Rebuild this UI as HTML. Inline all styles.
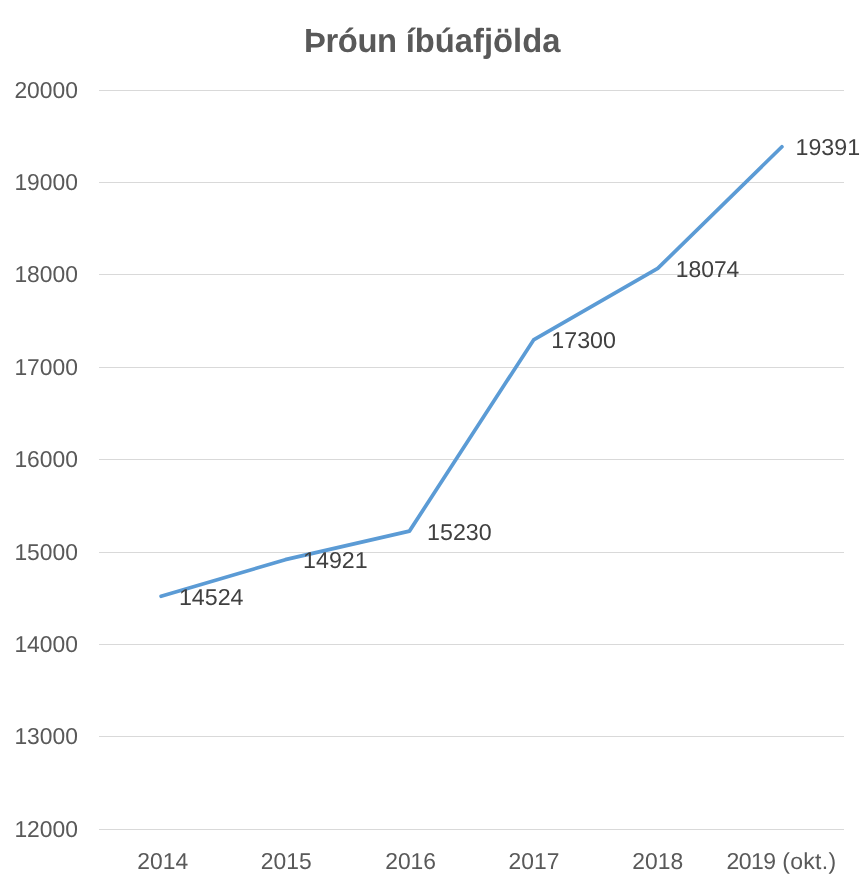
<!DOCTYPE html>
<html>
<head>
<meta charset="utf-8">
<title>Þróun íbúafjölda</title>
<style>
html,body{margin:0;padding:0;background:#fff;}
body{width:867px;height:889px;overflow:hidden;font-family:"Liberation Sans",sans-serif;}
svg{display:block;will-change:transform;}
text{font-family:"Liberation Sans",sans-serif;text-rendering:geometricPrecision;}
.ax{font-size:23.0px;fill:#595959;}
.dl{font-size:23.0px;fill:#404040;}
.ttl{font-size:33.0px;font-weight:bold;fill:#595959;}
</style>
</head>
<body>
<svg width="867" height="889" viewBox="0 0 867 889">
<rect width="867" height="889" fill="#ffffff"/>
<g fill="#d9d9d9">
<rect x="99" y="90" width="745" height="1"/>
<rect x="99" y="182" width="745" height="1"/>
<rect x="99" y="274" width="745" height="1"/>
<rect x="99" y="367" width="745" height="1"/>
<rect x="99" y="459" width="745" height="1"/>
<rect x="99" y="552" width="745" height="1"/>
<rect x="99" y="644" width="745" height="1"/>
<rect x="99" y="736" width="745" height="1"/>
<rect x="99" y="829" width="745" height="1"/>
</g>
<g transform="translate(304.0,51.8) scale(0.978,1)"><text class="ttl" style="font-size:33.5px"><tspan style="letter-spacing:-0.42px">Þróun</tspan><tspan dx="0.0"> íbúafjölda</tspan></text></g>
<g class="ax" text-anchor="end">
<g transform="translate(77.9,98.10) scale(0.993,1)"><text>20000</text></g>
<g transform="translate(77.9,190.10) scale(0.993,1)"><text>19000</text></g>
<g transform="translate(77.9,282.10) scale(0.993,1)"><text>18000</text></g>
<g transform="translate(77.9,375.10) scale(0.993,1)"><text>17000</text></g>
<g transform="translate(77.9,467.10) scale(0.993,1)"><text>16000</text></g>
<g transform="translate(77.9,560.10) scale(0.993,1)"><text>15000</text></g>
<g transform="translate(77.9,652.10) scale(0.993,1)"><text>14000</text></g>
<g transform="translate(77.9,744.10) scale(0.993,1)"><text>13000</text></g>
<g transform="translate(77.9,837.10) scale(0.993,1)"><text>12000</text></g>
</g>
<g class="ax" text-anchor="middle">
<g transform="translate(162.68,869.2) scale(0.993,1)"><text>2014</text></g>
<g transform="translate(286.25,869.2) scale(0.993,1)"><text>2015</text></g>
<g transform="translate(410.62,869.2) scale(0.993,1)"><text>2016</text></g>
<g transform="translate(533.98,869.2) scale(0.993,1)"><text>2017</text></g>
<g transform="translate(657.75,869.2) scale(0.993,1)"><text>2018</text></g>
</g>
<g class="ax">
<g transform="translate(726.6,869.2) scale(1.0,1)"><text><tspan style="letter-spacing:-0.55px">2019</tspan><tspan style="letter-spacing:0.3px"> (okt.)</tspan></text></g>
</g>
<polyline fill="none" stroke="#5b9bd5" stroke-width="3.7" stroke-linecap="round" stroke-linejoin="round" points="161.08,596.35 285.25,559.67 409.42,531.13 533.58,339.91 657.75,268.41 781.92,146.76"/>
<g class="dl">
<g transform="translate(178.90,605.00) scale(1.0100,1)"><text>14524</text></g>
<g transform="translate(303.10,567.80) scale(1.0100,1)"><text>14921</text></g>
<g transform="translate(427.10,539.60) scale(1.0100,1)"><text>15230</text></g>
<g transform="translate(551.30,347.50) scale(1.0100,1)"><text>17300</text></g>
<g transform="translate(675.70,277.40) scale(0.9949,1)"><text>18074</text></g>
<g transform="translate(795.50,155.00) scale(1.0100,1)"><text>19391</text></g>
</g>
</svg>
</body>
</html>
